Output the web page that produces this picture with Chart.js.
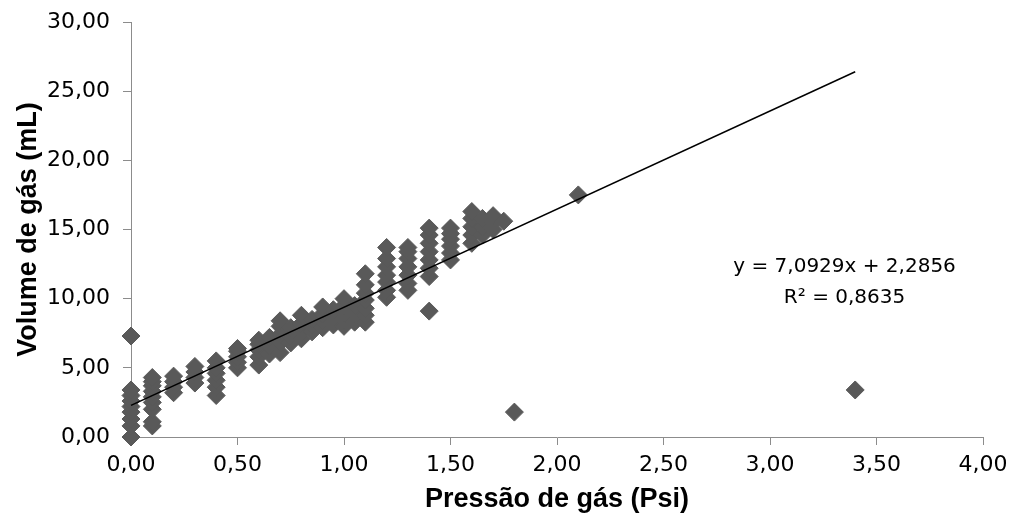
<!DOCTYPE html>
<html><head><meta charset="utf-8">
<script src="https://cdn.jsdelivr.net/npm/chart.js@4/dist/chart.umd.min.js"></script>
<style>html,body{margin:0;padding:0;background:#fff;}canvas{display:block;}</style>
</head><body>
<canvas id="c" width="1014" height="524"></canvas>
<script>
// Pressure (Psi) of each measurement
const pressure = [
  0,0,0,0,0,0,0,0,0,
  0.1,0.1,0.1,0.1,0.1,0.1,0.1,0.1,0.1,
  0.2,0.2,0.2,0.2,
  0.3,0.3,0.3,0.3,
  0.4,0.4,0.4,0.4,0.4,0.4,
  0.5,0.5,0.5,0.5,0.5,
  0.6,0.6,0.6,0.6,0.6,
  0.65,0.65,0.65,
  0.7,0.7,0.7,0.7,0.7,
  0.75,0.75,0.75,
  0.8,0.8,0.8,0.8,
  0.85,0.85,0.85,
  0.9,0.9,0.9,0.9,
  0.95,0.95,0.95,
  1.0,1.0,1.0,1.0,1.0,
  1.05,1.05,1.05,
  1.1,1.1,1.1,1.1,1.1,1.1,1.1,
  1.2,1.2,1.2,1.2,1.2,1.2,1.2,
  1.3,1.3,1.3,1.3,1.3,1.3,1.3,
  1.4,1.4,1.4,1.4,1.4,1.4,1.4,1.4,
  1.5,1.5,1.5,1.5,1.5,1.5,
  1.6,1.6,1.6,1.6,1.6,
  1.65,1.65,1.65,
  1.7,1.7,1.7,
  1.75,
  1.8,
  2.1,
  3.4
];
// Gas volume (mL) of each measurement
const volume = [
  0.0,0.8,1.3,1.8,2.2,2.6,3.0,3.4,7.3,
  0.8,1.1,2.0,2.5,2.9,3.3,3.7,4.0,4.3,
  3.2,3.6,4.0,4.4,
  3.9,4.3,4.7,5.1,
  3.0,3.6,4.1,4.6,5.0,5.5,
  5.0,5.4,5.8,6.2,6.4,
  5.2,5.8,6.3,6.7,7.0,
  6.0,6.6,7.2,
  6.1,6.8,7.4,8.0,8.4,
  6.8,7.3,7.9,
  7.1,7.6,8.2,8.8,
  7.6,8.1,8.5,
  7.9,8.4,8.9,9.4,
  8.1,8.7,9.2,
  8.0,8.5,9.0,9.5,10.0,
  8.3,8.9,9.5,
  8.3,8.8,9.3,9.9,10.4,11.0,11.8,
  10.1,10.6,11.2,11.7,12.3,12.9,13.7,
  10.6,11.1,11.7,12.3,12.9,13.4,13.7,
  11.6,12.2,12.8,13.4,14.0,14.6,15.1,9.1,
  12.8,13.3,13.8,14.3,14.7,15.1,
  14.0,14.6,15.2,15.8,16.3,
  14.6,15.2,15.8,
  15.0,15.5,16.0,
  15.6,
  1.8,
  17.5,
  3.4
];
// Linear trend line (from the chart's equation)
const trendSlope = 7.0929;
const trendIntercept = 2.2856;
const equationLines = ['y = 7,0929x + 2,2856', 'R\u00B2 = 0,8635'];
const equationAnchor = [3.35, 12.3];

const xTickLabels = ['0,00','0,50','1,00','1,50','2,00','2,50','3,00','3,50','4,00'];
const yTickLabels = ['0,00','5,00','10,00','15,00','20,00','25,00','30,00'];

const points = pressure.map((p, i) => ({x: p, y: volume[i]}));
const xMin = Math.min(...pressure), xMax = Math.max(...pressure);
const trend = [
  {x: xMin, y: trendSlope * xMin + trendIntercept},
  {x: xMax, y: trendSlope * xMax + trendIntercept}
];

const equationPlugin = {
  id: 'equation',
  afterDatasetsDraw(chart) {
    const {ctx, scales: {x, y}} = chart;
    const px = x.getPixelForValue(equationAnchor[0]);
    const py = y.getPixelForValue(equationAnchor[1]);
    ctx.save();
    ctx.font = '20px "DejaVu Sans"';
    ctx.fillStyle = '#000';
    ctx.textAlign = 'center';
    ctx.textBaseline = 'middle';
    ctx.fillText(equationLines[0], px, py);
    ctx.fillText(equationLines[1], px, py + 31);
    ctx.restore();
  }
};

const axisColor = '#8c8c8c';
new Chart(document.getElementById('c'), {
  type: 'scatter',
  data: {
    datasets: [
      {
        type: 'line', data: trend, borderColor: '#000', borderWidth: 1.5,
        pointRadius: 0, fill: false, order: 0, clip: false
      },
      {
        data: points, pointStyle: 'rectRot', pointRadius: 9,
        backgroundColor: '#595959', borderColor: '#595959', borderWidth: 1, order: 1, clip: false
      }
    ]
  },
  options: {
    responsive: false, animation: false, devicePixelRatio: 1,
    layout: {padding: {top: 22, right: 31, left: 0, bottom: 0}},
    plugins: {legend: {display: false}, tooltip: {enabled: false}},
    scales: {
      x: {
        type: 'linear', min: 0, max: 4,
        afterFit(s) { s.height = 87; s.paddingLeft = 0; s.paddingRight = 0; s.paddingTop = 0; s.paddingBottom = 0; },
        ticks: {
          stepSize: 0.5, color: '#000', padding: 7, maxRotation: 0, autoSkip: false,
          font: {family: 'DejaVu Sans', size: 22},
          callback: (v, i) => xTickLabels[i]
        },
        grid: {display: true, drawOnChartArea: false, drawTicks: true, tickLength: 8, color: axisColor},
        border: {display: true, color: axisColor, width: 1},
        title: {display: true, text: 'Pressão de gás (Psi)', color: '#000',
          font: {family: 'Liberation Sans', size: 27, weight: 'bold'}, padding: {bottom: 8, top: 0}}
      },
      y: {
        type: 'linear', min: 0, max: 30,
        afterFit(s) { s.width = 131; s.paddingLeft = 0; s.paddingRight = 0; s.paddingTop = 0; s.paddingBottom = 0; },
        ticks: {
          stepSize: 5, color: '#000', padding: 13,
          font: {family: 'DejaVu Sans', size: 22},
          callback: (v, i) => yTickLabels[i]
        },
        grid: {display: true, drawOnChartArea: false, drawTicks: true, tickLength: 8, color: axisColor},
        border: {display: true, color: axisColor, width: 1},
        title: {display: true, text: 'Volume de gás (mL)', color: '#000',
          font: {family: 'Liberation Sans', size: 27, weight: 'bold'}, padding: {top: 12, bottom: 0}}
      }
    }
  },
  plugins: [equationPlugin]
});
</script>
</body></html>
